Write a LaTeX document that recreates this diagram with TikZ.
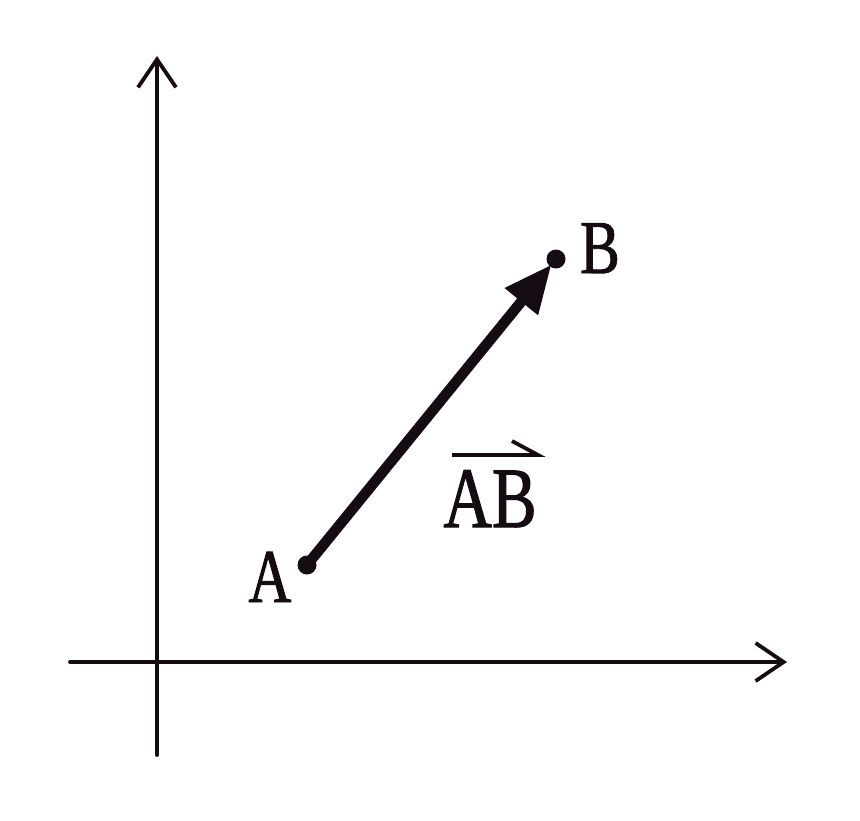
\documentclass[tikz,border=0pt]{standalone}
\usepackage{fontspec}
\setmainfont{Liberation Serif}
\newfontfamily\lblfont[FakeStretch=0.78,FakeBold=1.2]{Liberation Serif}
\usetikzlibrary{arrows.meta}
\definecolor{ink}{HTML}{140C12}
\begin{document}
\begin{tikzpicture}[x=1pt,y=-1pt,
  axis/.style={draw=ink,line width=3.8pt,line cap=round,-{Straight Barb[length=28pt,width=38pt,line width=3.8pt]}},
  vec/.style={draw=ink,line width=10.5pt,-{Triangle[length=48pt,width=40pt]},shorten >=7pt},
  dot/.style={circle,fill=ink,inner sep=0pt,minimum size=19pt},
  lbl/.style={text=ink,inner sep=0pt,anchor=base,font=\lblfont\fontsize{76}{80}\selectfont},
  biglbl/.style={text=ink,inner sep=0pt,anchor=base,font=\lblfont\fontsize{86}{90}\selectfont}]
\useasboundingbox[fill=white] (0,0) rectangle (860,820);
\coordinate (ytop) at (157,56);
\coordinate (ybot) at (157,755);
\coordinate (xl) at (70,662);
\coordinate (xr) at (787,662);
\draw[axis] (ybot) -- (ytop);
\draw[axis] (xl) -- (xr);
\node[dot] (A) at (307,565) {};
\node[dot] (B) at (556,259) {};
\draw[vec] (A.center) -- (B.center);
\node[lbl] (la) at (270,602) {A};
\node[lbl] (lb) at (600,273) {B};
\node[biglbl] (ab) at (490,527) {AB};
\coordinate (h1) at (452,455);
\coordinate (h2) at (538,455);
\coordinate (h3) at (512,441);
\draw[draw=ink,line width=3.8pt,line join=miter] (h1) -- (h2) -- (h3);
\end{tikzpicture}
\end{document}
